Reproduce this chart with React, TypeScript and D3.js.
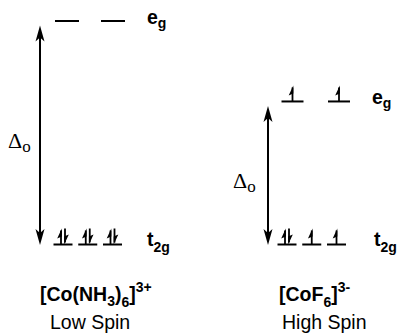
import React from "react";
import * as d3 from "d3";

// ---- data ----
const complexes = ["[Co(NH3)6]3+", "[CoF6]3-"];
const spinLabels = ["Low Spin", "High Spin"];
const splitting = [1.0, 0.64]; // relative Δo (eg energy above t2g)
const t2gOccupancy = [
  [2, 2, 2],
  [2, 1, 1],
];
const egOccupancy = [
  [0, 0],
  [1, 1],
];
const levelNames = ["t", "e"];
const levelSubs = ["2g", "g"];

const W = 402;
const H = 333;

const SANS = "'Liberation Sans', Arial, Helvetica, sans-serif";
const SERIF = "'Liberation Serif', 'Times New Roman', serif";

// energy scale (t2g at 0)
const yScale = d3.scaleLinear().domain([0, 1]).range([244.5, 21]);

// panel layouts (horizontal offsets of each diagram)
const panelX = [0, 225];

function ElectronArrow({ x, y, up }: { x: number; y: number; up: boolean }) {
  const len = 16;
  const top = y - len;
  if (up) {
    const p = d3.path();
    p.moveTo(x + 0.8, top);
    p.lineTo(x - 3.8, top + 10);
    p.lineTo(x + 0.8, top + 8);
    p.closePath();
    return (
      <g>
        <line x1={x} x2={x} y1={y} y2={top + 2} stroke="#000" strokeWidth={1.8} />
        <path d={p.toString()} fill="#000" />
      </g>
    );
  }
  const p = d3.path();
  p.moveTo(x - 0.8, y);
  p.lineTo(x + 3.8, y - 10);
  p.lineTo(x - 0.8, y - 8);
  p.closePath();
  return (
    <g>
      <line x1={x} x2={x} y1={top} y2={y - 2} stroke="#000" strokeWidth={1.8} />
      <path d={p.toString()} fill="#000" />
    </g>
  );
}

function DoubleArrow({ x, y1, y2 }: { x: number; y1: number; y2: number }) {
  const hl = 16, hw = 4.5, notch = 12;
  const up = d3.path();
  up.moveTo(x, y1);
  up.lineTo(x + hw, y1 + hl);
  up.lineTo(x, y1 + notch);
  up.lineTo(x - hw, y1 + hl);
  up.closePath();
  const dn = d3.path();
  dn.moveTo(x, y2);
  dn.lineTo(x + hw, y2 - hl);
  dn.lineTo(x, y2 - notch);
  dn.lineTo(x - hw, y2 - hl);
  dn.closePath();
  return (
    <g>
      <line x1={x} x2={x} y1={y1 + 8} y2={y2 - 8} stroke="#000" strokeWidth={2} />
      <path d={up.toString()} fill="#000" />
      <path d={dn.toString()} fill="#000" />
    </g>
  );
}

function Orbital({ cx, y, w, n }: { cx: number; y: number; w: number; n: number }) {
  return (
    <g>
      <line x1={cx - w / 2} x2={cx + w / 2} y1={y} y2={y} stroke="#000" strokeWidth={2} />
      {n === 1 && <ElectronArrow x={cx} y={y} up={true} />}
      {n === 2 && (
        <>
          <ElectronArrow x={cx - 2} y={y} up={true} />
          <ElectronArrow x={cx + 2} y={y} up={false} />
        </>
      )}
    </g>
  );
}

const FS = 19.5;
const SUB = 14;

function ComplexLabel({ text, x, y }: { text: string; x: number; y: number }) {
  if (text === "[Co(NH3)6]3+") {
    return (
      <text x={x} y={y} fontFamily={SANS} fontWeight="bold" fontSize={FS}>
        [Co(NH
        <tspan fontSize={SUB} dy={5}>3</tspan>
        <tspan dy={-5}>)</tspan>
        <tspan fontSize={SUB} dy={6}>6</tspan>
        <tspan dy={-6}>]</tspan>
        <tspan fontSize={SUB} dy={-9}>3+</tspan>
      </text>
    );
  }
  return (
    <text x={x} y={y} fontFamily={SANS} fontWeight="bold" fontSize={FS}>
      [CoF
      <tspan fontSize={SUB} dy={6}>6</tspan>
      <tspan dy={-6}>]</tspan>
      <tspan fontSize={SUB} dy={-9}>3-</tspan>
    </text>
  );
}

export default function App() {
  const t2gX = d3.scalePoint<number>().domain([0, 1, 2]).range([63, 112.5]);
  const egX = [
    d3.scalePoint<number>().domain([0, 1]).range([67, 113]),
    d3.scalePoint<number>().domain([0, 1]).range([67.5, 114]),
  ];
  const egW = [24, 22];
  const arrowX = [40, 43];
  const deltaX = [8, 8];
  const labelX = [147, 147];
  const complexX = [40, 54];
  const spinX = [50, 57];

  return (
    <svg width={W} height={H} style={{ position: "absolute", left: 0, top: 0, background: "#fff" }}>
      {complexes.map((c, i) => {
        const ox = panelX[i];
        const yT = yScale(0);
        const yE = yScale(splitting[i]);
        return (
          <g key={c}>
            <DoubleArrow x={ox + arrowX[i]} y1={yE + 4.5} y2={yT + 0.5} />
            {t2gOccupancy[i].map((n, j) => (
              <Orbital key={"t" + j} cx={ox + t2gX(j)! - (i === 1 ? 1 : 0)} y={yT} w={19} n={n} />
            ))}
            {egOccupancy[i].map((n, j) => (
              <Orbital key={"e" + j} cx={ox + egX[i](j)!} y={yE} w={egW[i]} n={n} />
            ))}
            <text x={ox + labelX[i]} y={yE + 3} fontFamily={SANS} fontWeight="bold" fontSize={FS}>
              {levelNames[1]}
              <tspan fontSize={SUB} dy={4}>{levelSubs[1]}</tspan>
            </text>
            <text x={ox + labelX[i] + (i === 1 ? 2 : 0)} y={yT + 1} fontFamily={SANS} fontWeight="bold" fontSize={FS}>
              {levelNames[0]}
              <tspan fontSize={SUB} dy={6}>{levelSubs[0]}</tspan>
            </text>
            <text x={ox + deltaX[i]} y={(yE + yT) / 2 + 15} fontFamily={SERIF} fontSize={22}>
              Δ<tspan fontSize={17} dy={4}>o</tspan>
            </text>
            <ComplexLabel text={c} x={ox + complexX[i]} y={301} />
            <text x={ox + spinX[i]} y={329} fontFamily={SANS} fontSize={FS}>
              {spinLabels[i]}
            </text>
          </g>
        );
      })}
    </svg>
  );
}
